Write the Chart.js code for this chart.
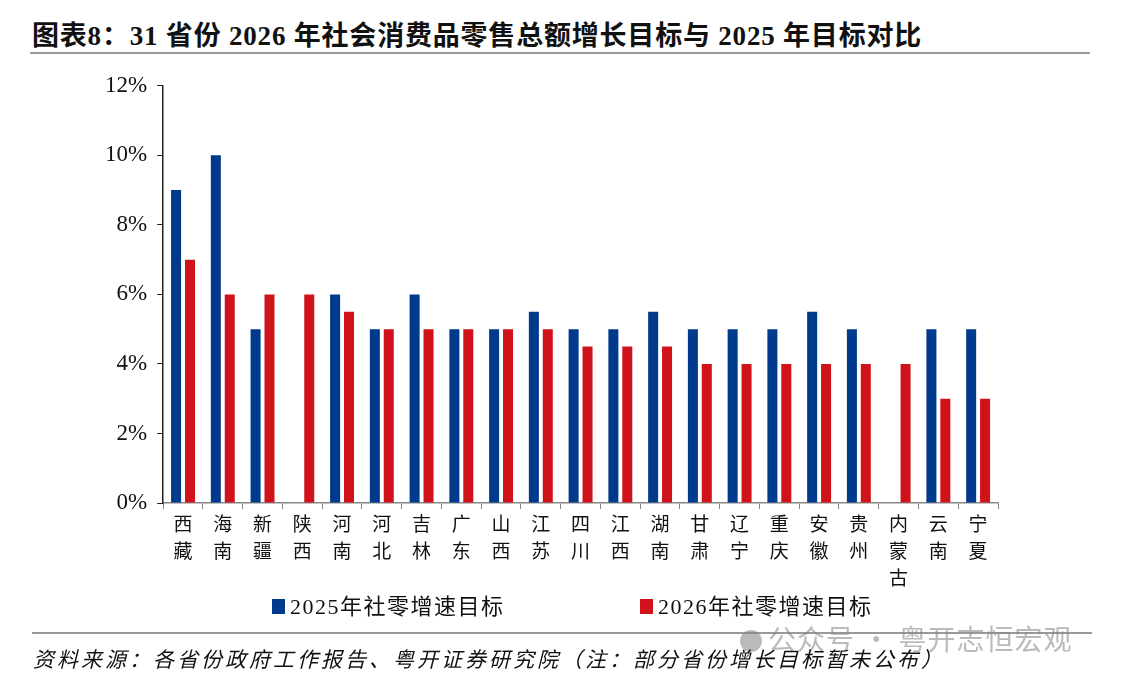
<!DOCTYPE html>
<html>
<head>
<meta charset="utf-8">
<script src="https://cdn.jsdelivr.net/npm/chart.js@4"></script>
<style>
  body { margin: 0; width: 1122px; height: 690px; background: #fff; position: relative; overflow: hidden;
         font-family: "Liberation Serif", "Noto Sans CJK SC", serif; color: #111; }
  #title { position: absolute; left: 32px; top: 14px; font-size: 27px; font-weight: bold; letter-spacing: 0.8px; }
  #topline { position: absolute; left: 30px; top: 52px; width: 1060px; height: 2px; background: #999; }
  #wrap { position: absolute; left: 95px; top: 62px; width: 913px; height: 536px; }
  .leg { position: absolute; top: 588px; font-size: 22px; letter-spacing: 1.5px; }
  .leg i { display: inline-block; width: 13px; height: 15px; margin-right: 5px; vertical-align: 0px; }
  #botline { position: absolute; left: 32px; top: 632px; width: 1060px; height: 2px; background: #999; }
  #source { position: absolute; left: 33px; top: 643px; font-size: 21px; font-style: italic; letter-spacing: 3px; }
  #wm { position: absolute; left: 740px; top: 618px; font-size: 28px; letter-spacing: 1px; color: rgba(130,130,130,0.55);
        font-family: "Noto Sans CJK SC", sans-serif; white-space: nowrap; }
  #wm b { display: inline-block; width: 22px; height: 22px; border-radius: 50%; background: rgba(130,130,130,0.55);
          margin-right: 6px; vertical-align: -2px; }
</style>
</head>
<body>
<div id="title">图表8：31 省份 2026 年社会消费品零售总额增长目标与 2025 年目标对比</div>
<div id="topline"></div>
<div id="wrap"><canvas id="chart"></canvas></div>
<div class="leg" style="left:272px"><i style="background:#003A8C"></i>2025年社零增速目标</div>
<div class="leg" style="left:640px"><i style="background:#D0121B"></i>2026年社零增速目标</div>
<div id="botline"></div>
<div id="wm"><b></b>公众号 · 粤开志恒宏观</div>
<div id="source">资料来源：各省份政府工作报告、粤开证券研究院（注：部分省份增长目标暂未公布）</div>
<script>
// provinces, each label split into chars so they stack vertically
const provinces = ['西藏', '海南', '新疆', '陕西', '河南', '河北', '吉林', '广东', '山西', '江苏', '四川',
                   '江西', '湖南', '甘肃', '辽宁', '重庆', '安徽', '贵州', '内蒙古', '云南', '宁夏'];
// growth targets (%), null = not published
const target2025 = [9, 10, 5, null, 6, 5, 6, 5, 5, 5.5, 5, 5, 5.5, 5, 5, 5, 5.5, 5, null, 5, 5];
const target2026 = [7, 6, 6, 6, 5.5, 5, 5, 5, 5, 5, 4.5, 4.5, 4.5, 4, 4, 4, 4, 4, 4, 3, 3];
const yTicks = [0, 2, 4, 6, 8, 10, 12];

const ctx = document.getElementById('chart').getContext('2d');
const chart = new Chart(ctx, {
    type: 'bar',
    data: {
        labels: provinces.map(p => p.split('')),
        datasets: [
            { label: '2025年社零增速目标', data: target2025, backgroundColor: '#003A8C' },
            { label: '2026年社零增速目标', data: target2026, backgroundColor: '#D0121B' }
        ]
    },
    options: {
        responsive: true,
        maintainAspectRatio: false,
        animation: false,
        layout: { padding: { top: 6, right: 10 } },
        datasets: { bar: { categoryPercentage: 0.7, barPercentage: 0.72 } },
        plugins: {
            legend: { display: false },
            tooltip: { enabled: false }
        },
        scales: {
            x: {
                grid: { drawOnChartArea: false, color: '#888', tickLength: 6, offset: true },
                border: { color: '#888', width: 1.5 },
                ticks: {
                    color: '#111', maxRotation: 0, autoSkip: false, padding: 4,
                    font: { family: '"Liberation Serif", "Noto Sans CJK SC"', size: 19, lineHeight: '27px' }
                }
            },
            y: {
                min: 0, max: 12,
                afterBuildTicks: axis => { axis.ticks = yTicks.map(v => ({ value: v })); },
                grid: { drawOnChartArea: false, color: '#222', tickLength: 6 },
                border: { color: '#222', width: 1.5 },
                ticks: {
                    color: '#111', padding: 10,
                    font: { family: '"Liberation Serif"', size: 23 },
                    callback: v => v + '%'
                }
            }
        }
    }
});
</script>
</body>
</html>
